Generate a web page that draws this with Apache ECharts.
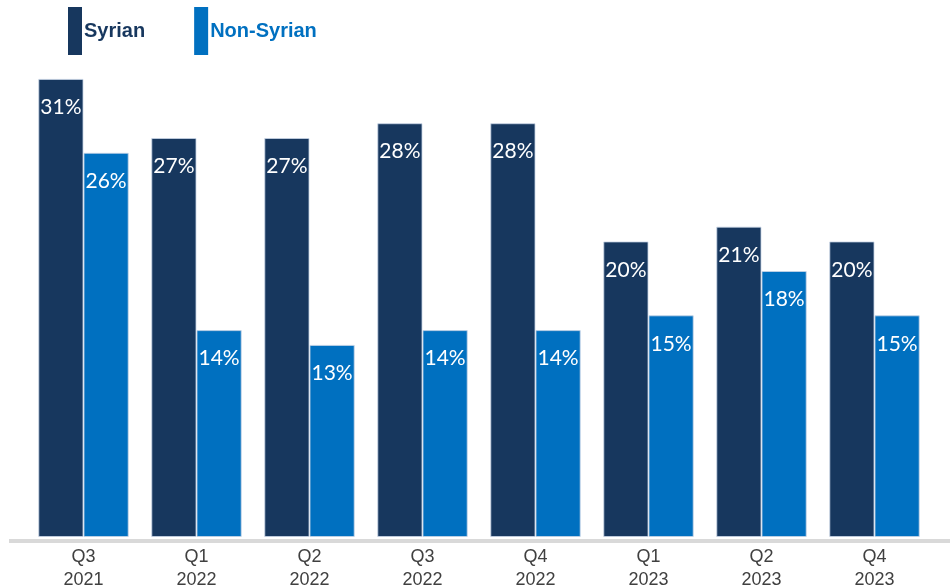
<!DOCTYPE html>
<html>
<head>
<meta charset="utf-8">
<script src="https://cdn.jsdelivr.net/npm/echarts@6/dist/echarts.min.js"></script>
<style>
  html, body { margin: 0; padding: 0; background: #ffffff; }
  #chart { width: 950px; height: 588px; }
</style>
</head>
<body>
<div id="chart"></div>
<script>
// Quarter labels (quarter on first line, year on second)
const quarters = ['Q3\n2021', 'Q1\n2022', 'Q2\n2022', 'Q3\n2022', 'Q4\n2022', 'Q1\n2023', 'Q2\n2023', 'Q4\n2023'];
// Shares in percent
const syrian = [31, 27, 27, 28, 28, 20, 21, 20];
const nonSyrian = [26, 14, 13, 14, 14, 15, 18, 15];
const seriesNames = ['Syrian', 'Non-Syrian'];

const NAVY = '#17375e';
const BLUE = '#0070c0';

const chart = echarts.init(document.getElementById('chart'), null, { renderer: 'canvas' });

const labelStyle = {
  show: true,
  position: 'insideTop',
  distance: 18,
  color: '#ffffff',
  fontFamily: 'Lato, "Open Sans", sans-serif',
  fontSize: 21,
  formatter: p => p.value + '%'
};

chart.setOption({
  animation: false,
  backgroundColor: '#ffffff',
  grid: { left: 27, right: 19, top: 22, bottom: 51, outerBoundsMode: 'none' },
  legend: {
    left: 68,
    top: 7,
    padding: 0,
    itemWidth: 14,
    itemHeight: 48,
    itemGap: 49,
    icon: 'rect',
    selectedMode: false,
    itemStyle: { borderWidth: 0 },
    textStyle: {
      fontFamily: '"Liberation Sans", Arial, sans-serif',
      fontWeight: 'bold',
      fontSize: 20,
      padding: [0, 0, 0, -3]
    },
    data: [
      { name: seriesNames[0], textStyle: { color: NAVY } },
      { name: seriesNames[1], textStyle: { color: BLUE } }
    ]
  },
  xAxis: {
    type: 'category',
    data: quarters,
    axisTick: { show: false },
    axisLine: { show: false },
    axisLabel: {
      margin: 9,
      color: '#404040',
      fontFamily: '"Liberation Sans", Arial, sans-serif',
      fontSize: 18,
      lineHeight: 23
    }
  },
  yAxis: {
    type: 'value',
    min: 0,
    max: 34.85,
    show: false,
    splitLine: { show: false }
  },
  series: [
    {
      name: seriesNames[0],
      type: 'bar',
      data: syrian,
      barGap: '0%',
      barCategoryGap: '20%',
      itemStyle: { color: NAVY, borderColor: 'rgba(200,212,230,0.8)', borderWidth: 1 },
      label: labelStyle
    },
    {
      name: seriesNames[1],
      type: 'bar',
      data: nonSyrian,
      barGap: '0%',
      barCategoryGap: '20%',
      itemStyle: { color: BLUE, borderColor: 'rgba(200,212,230,0.8)', borderWidth: 1 },
      label: labelStyle
    }
  ],
  graphic: [
    {
      // baseline rule running the full width under the bars
      type: 'rect',
      shape: { x: 9, y: 539, width: 941, height: 4 },
      style: { fill: '#d9d9d9' },
      silent: true
    }
  ]
});
</script>
</body>
</html>
